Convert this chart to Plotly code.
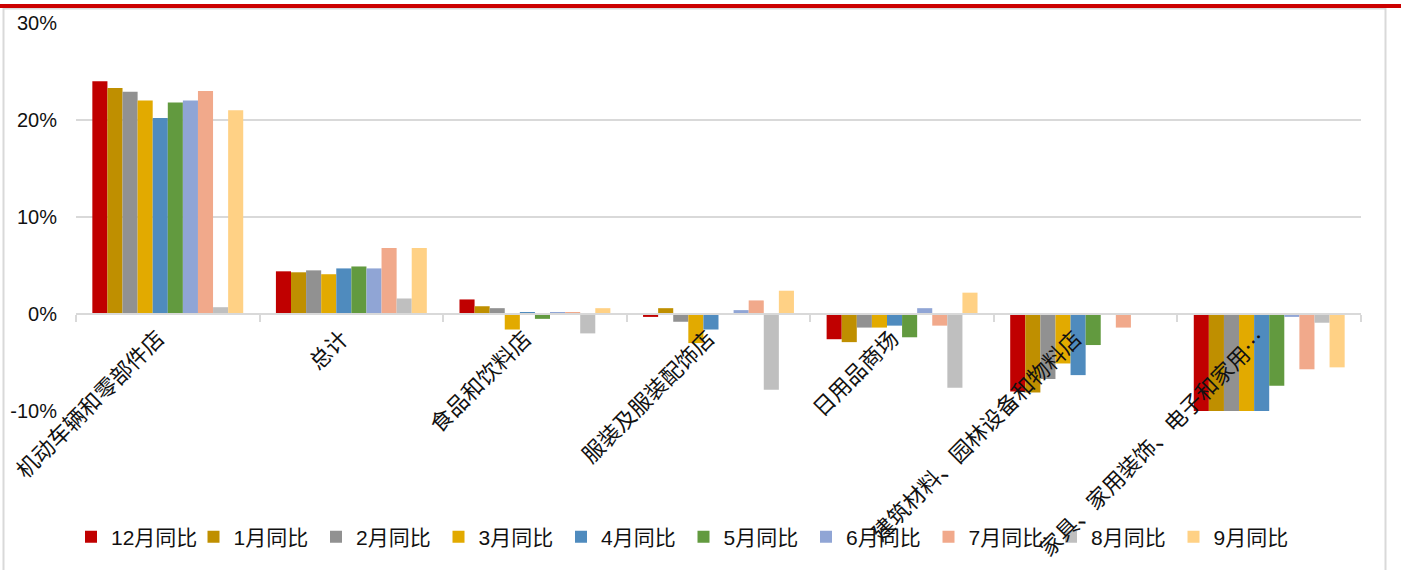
import plotly.graph_objects as go

categories = ["机动车辆和零部件店", "总计", "食品和饮料店", "服装及服装配饰店",
              "日用品商场", "建筑材料、园林设备和物料店", "家具、家用装饰、电子和家用…"]

series_names = ["12月同比", "1月同比", "2月同比", "3月同比", "4月同比",
                "5月同比", "6月同比", "7月同比", "8月同比", "9月同比"]

s_dec = [24.0, 4.4, 1.5, -0.3, -2.6, -8.0, -11.5]
s_jan = [23.3, 4.3, 0.8, 0.6, -2.9, -8.1, -11.0]
s_feb = [22.9, 4.5, 0.6, -0.8, -1.4, -6.7, -11.2]
s_mar = [22.0, 4.1, -1.6, -3.0, -1.4, -5.1, -10.8]
s_apr = [20.2, 4.7, 0.2, -1.6, -1.2, -6.3, -12.0]
s_may = [21.8, 4.9, -0.5, -0.1, -2.4, -3.2, -7.4]
s_jun = [22.0, 4.7, 0.2, 0.4, 0.6, -0.1, -0.3]
s_jul = [23.0, 6.8, 0.2, 1.4, -1.2, -1.4, -5.7]
s_aug = [0.7, 1.6, -2.0, -7.8, -7.6, -0.05, -0.9]
s_sep = [21.0, 6.8, 0.6, 2.4, 2.2, -0.1, -5.5]

series_values = [s_dec, s_jan, s_feb, s_mar, s_apr, s_may, s_jun, s_jul, s_aug, s_sep]
colors = ["#C00000", "#BF8F00", "#919191", "#E2AA00", "#4F8BBE",
          "#629A3F", "#90A5D5", "#F1A98B", "#BFBFBF", "#FFD185"]

y_ticks = [-10, 0, 10, 20, 30]
y_tick_text = ["-10%", "0%", "10%", "20%", "30%"]

# plot area in pixels
L, R, T, B = 76, 1361, 23, 411
W, H = 1403, 570


def px(x):
    return (x - L) / (R - L)


def py(y):
    return (B - y) / (B - T)


fig = go.Figure()
for name, vals, c in zip(series_names, series_values, colors):
    fig.add_trace(go.Bar(x=categories, y=vals, name=name, marker_color=c,
                         marker_line_width=0))

font_latin = "Liberation Sans, Arial, Noto Sans CJK SC"
font_cjk = "Noto Sans CJK SC"

for cat in categories:
    fig.add_annotation(x=cat, y=0, xref="x", yref="y", text=cat, showarrow=False,
                       textangle=-45, xanchor="right", yanchor="top",
                       xshift=5, yshift=-5,
                       font=dict(family=font_cjk, size=22, color="#111111"))

shapes = [
    # grey border
    dict(type="rect", xref="paper", yref="paper",
         x0=px(3.5), x1=px(1385.5), y0=py(575), y1=py(8.5),
         line=dict(color="#D9D9D9", width=2), fillcolor="rgba(0,0,0,0)", layer="below"),
    # red top band
    dict(type="rect", xref="paper", yref="paper",
         x0=px(0), x1=px(1401), y0=py(8), y1=py(4),
         line=dict(width=0), fillcolor="#CC0000"),
]

fig.update_layout(
    width=W, height=H,
    margin=dict(l=L, r=W - R, t=T, b=H - B, pad=0, autoexpand=False),
    paper_bgcolor="white", plot_bgcolor="white",
    barmode="group", bargap=0.178, bargroupgap=0,
    showlegend=True,
    legend=dict(orientation="h", x=px(71), xanchor="left", y=py(537), yanchor="middle",
                font=dict(family=font_latin, size=21, color="#111111"),
                itemwidth=30, entrywidth=77.5, entrywidthmode="pixels",
                traceorder="normal", itemclick=False, bgcolor="rgba(0,0,0,0)"),
    shapes=shapes,
    xaxis=dict(anchor="free", position=0.25, showticklabels=False,
               range=[-0.5, len(categories) - 0.5], autorange=False,
               ticks="outside", tickson="boundaries", ticklen=7, tickwidth=2,
               tickcolor="#D9D9D9", showline=True, linecolor="#D9D9D9", linewidth=2,
               showgrid=False, fixedrange=True, automargin=False),
    yaxis=dict(range=[-10, 30], autorange=False, tickmode="array",
               tickvals=y_ticks, ticktext=y_tick_text,
               showgrid=True, gridcolor="#D9D9D9", gridwidth=2,
               zeroline=True, zerolinecolor="#D9D9D9", zerolinewidth=2,
               showline=False, ticks="", ticklabelstandoff=18,
               tickfont=dict(family=font_latin, size=20, color="#111111"),
               fixedrange=True, automargin=False),
)

fig.write_html("out.html", config={"displayModeBar": False},
               post_script="document.body.style.margin='0';document.body.style.overflow='hidden';")
